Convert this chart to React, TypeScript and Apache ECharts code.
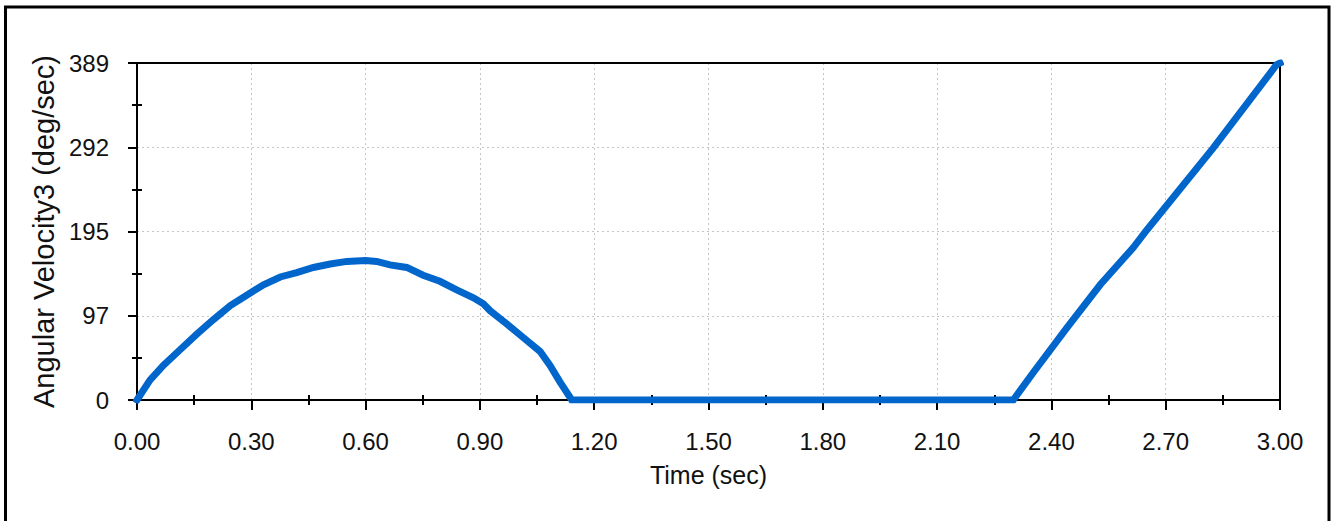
import React, { useEffect, useRef } from "react";
import * as echarts from "echarts";

const timeArc = [0, 0.034, 0.069, 0.113, 0.157, 0.201, 0.245, 0.288, 0.332, 0.376, 0.419, 0.463, 0.507, 0.551, 0.6, 0.629, 0.664, 0.708, 0.751, 0.795, 0.839, 0.883, 0.909, 0.927, 0.97, 1.014, 1.058, 1.084, 1.11, 1.141];
const velArc = [0, 23, 40, 58, 76, 93, 109, 121, 133, 142, 147, 153, 157, 160, 161, 160, 156, 153, 144, 137, 127, 118, 111, 103, 88, 72, 56, 40, 21, 0];
const timeRise = [2.3, 2.353, 2.44, 2.528, 2.615, 2.65, 2.825, 2.991, 3.0];
const velRise = [0, 32, 83, 133, 176, 196, 291, 387, 389];

const xTicks = { min: 0, max: 3, interval: 0.3 };
const yTicks = { min: 0, max: 389, interval: 97.25 };

const FONT = '"Liberation Sans", Arial, sans-serif';

export default function App() {
  const ref = useRef<HTMLDivElement>(null);
  useEffect(() => {
    if (!ref.current) return;
    const chart = echarts.init(ref.current, undefined, { renderer: "svg" });
    const data: [number, number][] = [];
    timeArc.forEach((t, i) => data.push([t, velArc[i]]));
    timeRise.forEach((t, i) => data.push([t, velRise[i]]));

    const grid = { left: 137, top: 63, right: 56, bottom: 121, show: false };
    const gridLine = { show: true, showMaxLine: false, showMinLine: false, lineStyle: { color: "#c4c4c4", width: 1, type: [2, 3] as any } };
    const blackLine = { show: true, onZero: false, lineStyle: { color: "#000", width: 2 } };
    const minor = { show: true, splitNumber: 2, length: 5, lineStyle: { color: "#000", width: 2 } };

    chart.setOption({
      animation: false,
      backgroundColor: "#fff",
      grid,
      graphic: [
        { type: "rect", shape: { x: 5.5, y: 7, width: 1323.5, height: 520 }, style: { fill: "none", stroke: "#000", lineWidth: 3 }, silent: true, z: 100 },
      ],
      xAxis: [
        {
          type: "value",
          min: xTicks.min,
          max: xTicks.max,
          interval: xTicks.interval,
          name: "Time (sec)",
          nameLocation: "middle",
          nameGap: 62,
          nameTextStyle: { fontFamily: FONT, fontSize: 25, color: "#111" },
          axisLine: blackLine,
          axisTick: { show: true, length: 10, lineStyle: { color: "#000", width: 2 } },
          minorTick: minor,
          axisLabel: { fontFamily: FONT, fontSize: 24, color: "#111", margin: 29, formatter: (v: number) => v.toFixed(2) },
          splitLine: gridLine,
          z: 3,
        },
        {
          type: "value",
          position: "bottom",
          min: xTicks.min,
          max: xTicks.max,
          interval: xTicks.interval,
          axisLine: { show: false },
          axisTick: { show: false, inside: true },
          minorTick: minor,
          axisLabel: { show: false },
          splitLine: { show: false },
          z: 3,
        },
        {
          type: "value",
          position: "top",
          min: xTicks.min,
          max: xTicks.max,
          interval: xTicks.interval,
          axisLine: blackLine,
          axisTick: { show: false },
          axisLabel: { show: false },
          splitLine: { show: false },
          z: 3,
        },
      ],
      yAxis: [
        {
          type: "value",
          min: yTicks.min,
          max: yTicks.max,
          interval: yTicks.interval,
          name: "Angular Velocity3 (deg/sec)",
          nameLocation: "middle",
          nameGap: 72,
          nameTextStyle: { fontFamily: FONT, fontSize: 29, color: "#111" },
          axisLine: blackLine,
          axisTick: { show: true, length: 9, lineStyle: { color: "#000", width: 2 } },
          minorTick: minor,
          axisLabel: { fontFamily: FONT, fontSize: 24, color: "#111", margin: 28, formatter: (v: number) => String(Math.round(v)) },
          splitLine: gridLine,
          z: 3,
        },
        {
          type: "value",
          position: "left",
          min: yTicks.min,
          max: yTicks.max,
          interval: yTicks.interval,
          axisLine: { show: false },
          axisTick: { show: false, inside: true },
          minorTick: minor,
          axisLabel: { show: false },
          splitLine: { show: false },
          z: 3,
        },
        {
          type: "value",
          position: "right",
          min: yTicks.min,
          max: yTicks.max,
          interval: yTicks.interval,
          axisLine: blackLine,
          axisTick: { show: false },
          axisLabel: { show: false },
          splitLine: { show: false },
          z: 3,
        },
      ],
      series: [
        {
          type: "line",
          xAxisIndex: 0,
          yAxisIndex: 0,
          data,
          showSymbol: false,
          lineStyle: { color: "#0066cc", width: 7, cap: "square", join: "miter" },
          itemStyle: { color: "#0066cc" },
          z: 5,
        },
      ],
    });
    return () => chart.dispose();
  }, []);
  return <div ref={ref} style={{ position: "fixed", left: 0, top: 0, width: 1336, height: 521 }} />;
}
